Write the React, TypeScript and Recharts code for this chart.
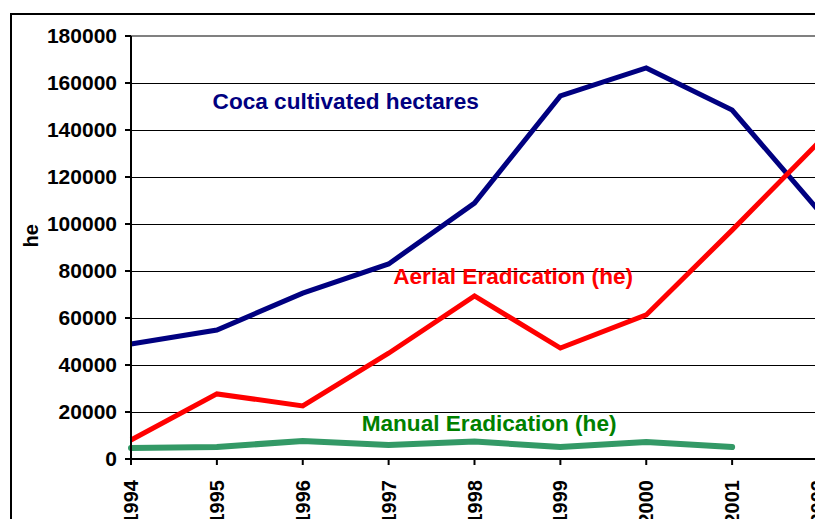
import React from 'react';
import {
  LineChart,
  Line,
  XAxis,
  YAxis,
  CartesianGrid,
  ReferenceLine,
  ReferenceDot,
} from 'recharts';

const years = [1994, 1995, 1996, 1997, 1998, 1999, 2000, 2001, 2002];
const coca = [48900, 54900, 70600, 83000, 108900, 154500, 166400, 148500, 106000];
const aerial = [8100, 27700, 22600, 45000, 69400, 47200, 61300, 97400, 134500];
const manual = [4700, 5100, 7700, 6000, 7400, 5100, 7200, 5100, null];
const yTicks = [0, 20000, 40000, 60000, 80000, 100000, 120000, 140000, 160000, 180000];

const data = years.map((year, i) => ({
  year,
  coca: coca[i],
  aerial: aerial[i],
  manual: manual[i],
}));

const FONT = 'Liberation Sans, Arial, sans-serif';

const YearTick = (props: any) => {
  const { x, y, payload } = props;
  const ty = y + 13;
  return (
    <text
      x={x}
      y={ty}
      transform={`rotate(-90, ${x}, ${ty})`}
      textAnchor='end'
      dominantBaseline='central'
      fontFamily={FONT}
      fontWeight='bold'
      fontSize={20}
      fill='#000'
    >
      {payload.value}
    </text>
  );
};

const noteStyle = (color: string) => ({
  fill: color,
  fontFamily: FONT,
  fontWeight: 'bold' as const,
  fontSize: 22.6,
});

const App = () => {
  return (
    <div
      style={{
        position: 'relative',
        width: 823,
        height: 527,
        margin: -8,
        overflow: 'hidden',
        background: '#fff',
      }}
    >
      <div
        style={{
          position: 'absolute',
          left: 10,
          top: 13,
          width: 900,
          height: 600,
          border: '2px solid #000',
        }}
      />
      <LineChart
        width={823}
        height={527}
        data={data}
        margin={{ top: 36, right: 5, left: 11, bottom: 8 }}
        style={{ position: 'absolute', left: 0, top: 0 }}
      >
        <CartesianGrid vertical={false} stroke='#000' strokeWidth={1} shapeRendering='crispEdges' />
        <XAxis
          dataKey='year'
          type='number'
          domain={[1994, 2002]}
          ticks={years}
          interval={0}
          height={60}
          tick={<YearTick />}
          tickSize={6}
          axisLine={{ stroke: '#000', strokeWidth: 2 }}
          tickLine={{ stroke: '#000', strokeWidth: 2 }}
        />
        <YAxis
          width={120}
          domain={[0, 180000]}
          ticks={yTicks}
          interval={0}
          tickSize={6}
          axisLine={{ stroke: '#000', strokeWidth: 2 }}
          tickLine={{ stroke: '#000', strokeWidth: 2 }}
          tick={{ fill: '#000', fontFamily: FONT, fontWeight: 'bold', fontSize: 21, dx: -6 }}
          label={{
            value: 'he',
            angle: -90,
            position: 'insideLeft',
            offset: 20,
            style: { fill: '#000', fontFamily: FONT, fontWeight: 'bold', fontSize: 20 },
          }}
        />
        <ReferenceLine y={180000} stroke='#808080' strokeWidth={2} />
        <ReferenceLine x={2002} stroke='#808080' strokeWidth={3} />
        <Line
          dataKey='coca'
          stroke='#000080'
          strokeWidth={5}
          dot={false}
          isAnimationActive={false}
        />
        <Line
          dataKey='aerial'
          stroke='#ff0000'
          strokeWidth={5}
          dot={false}
          isAnimationActive={false}
        />
        <Line
          dataKey='manual'
          stroke='#339966'
          strokeWidth={6}
          strokeLinecap='round'
          dot={false}
          isAnimationActive={false}
        />
        <ReferenceDot
          x={1996.5}
          y={152300}
          r={0}
          label={{ value: 'Coca cultivated hectares', position: 'center', style: noteStyle('#000080') }}
        />
        <ReferenceDot
          x={1998.45}
          y={77700}
          r={0}
          label={{ value: 'Aerial Eradication (he)', position: 'center', style: noteStyle('#ff0000') }}
        />
        <ReferenceDot
          x={1998.17}
          y={15300}
          r={0}
          label={{ value: 'Manual Eradication (he)', position: 'center', style: noteStyle('#008000') }}
        />
      </LineChart>
    </div>
  );
};

export default App;
